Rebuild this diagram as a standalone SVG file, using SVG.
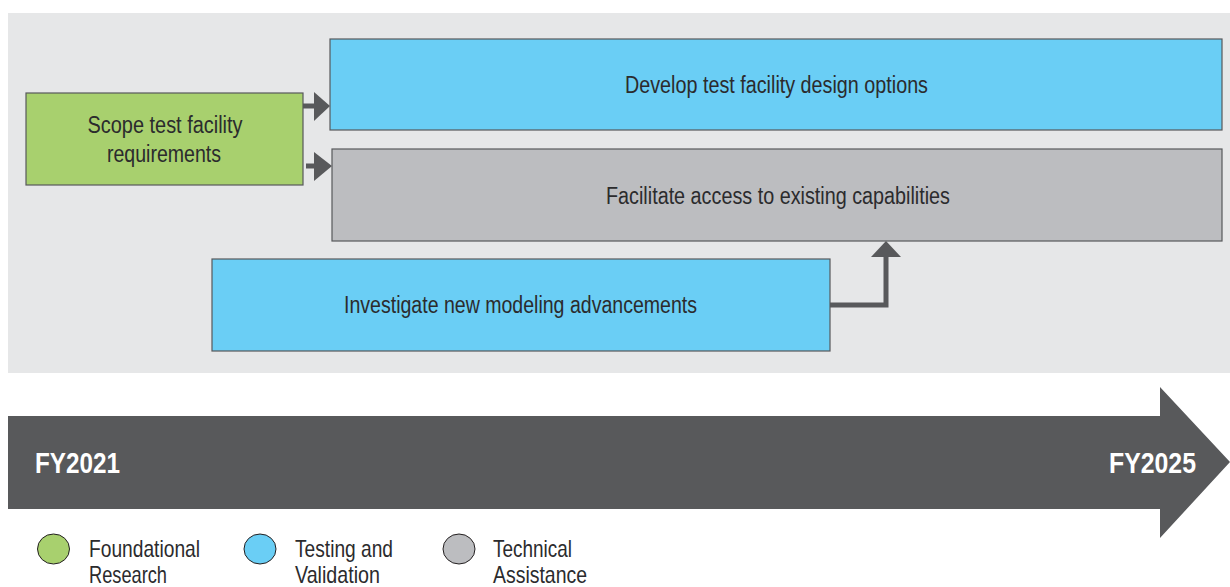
<svg xmlns="http://www.w3.org/2000/svg" width="1230" height="587" viewBox="0 0 1230 587">
<style>
.box{stroke:#58595b;stroke-width:1.2}
.green{fill:#a8d06e}
.blue{fill:#6acef5}
.gray{fill:#bcbdc0}
.t{font-family:"Liberation Sans Narrow","Liberation Sans",Arial,sans-serif;font-size:23px;fill:#2b2b2d}
.lg{font-family:"Liberation Sans Narrow","Liberation Sans",Arial,sans-serif;font-size:24px;fill:#2b2b2d}
.fy{font-family:"Liberation Sans Narrow","Liberation Sans",Arial,sans-serif;font-size:29px;font-weight:bold;fill:#ffffff}
.shaft{fill:none;stroke:#58595b;stroke-width:5}
.head{fill:#58595b}
.dot{stroke:#231f20;stroke-width:1}
</style>
<rect x="8" y="13" width="1222" height="360" fill="#e6e7e8"/>
<g id="connectors">
<path class="shaft" d="M303,106 H316"/>
<polygon class="head" points="314,92 330,106 314,121"/>
<path class="shaft" d="M306,166 H316"/>
<polygon class="head" points="314,152 332,166 314,181"/>
<path class="shaft" d="M830,305 H886 V256"/>
<polygon class="head" points="871,257 901,257 886,241"/>
</g>
<g id="scope">
<rect class="box green" x="26" y="93" width="277" height="92"/>
<text class="t" x="165" y="133" text-anchor="middle" textLength="155" lengthAdjust="spacingAndGlyphs">Scope test facility</text>
<text class="t" x="164" y="162" text-anchor="middle" textLength="114" lengthAdjust="spacingAndGlyphs">requirements</text>
</g>
<g id="develop">
<rect class="box blue" x="330" y="39" width="892" height="91"/>
<text class="t" x="776.5" y="93" text-anchor="middle" textLength="303" lengthAdjust="spacingAndGlyphs">Develop test facility design options</text>
</g>
<g id="facilitate">
<rect class="box gray" x="332" y="149" width="890" height="92"/>
<text class="t" x="778" y="204" text-anchor="middle" textLength="344" lengthAdjust="spacingAndGlyphs">Facilitate access to existing capabilities</text>
</g>
<g id="investigate">
<rect class="box blue" x="212" y="259" width="618" height="92"/>
<text class="t" x="520.5" y="313" text-anchor="middle" textLength="353" lengthAdjust="spacingAndGlyphs">Investigate new modeling advancements</text>
</g>
<g id="timeline">
<polygon fill="#58595b" points="8,416 1160,416 1160,387 1230,462 1160,538 1160,509 8,509"/>
<text class="fy" x="35" y="473" textLength="85" lengthAdjust="spacingAndGlyphs">FY2021</text>
<text class="fy" x="1109" y="473" textLength="87" lengthAdjust="spacingAndGlyphs">FY2025</text>
</g>
<g id="legend">
<ellipse class="dot green" cx="53.5" cy="549" rx="16" ry="15"/>
<text class="lg" x="89" y="557" textLength="111" lengthAdjust="spacingAndGlyphs">Foundational</text>
<text class="lg" x="89" y="583" textLength="78" lengthAdjust="spacingAndGlyphs">Research</text>
<ellipse class="dot blue" cx="260" cy="549" rx="16" ry="15"/>
<text class="lg" x="295" y="557" textLength="98" lengthAdjust="spacingAndGlyphs">Testing and</text>
<text class="lg" x="295" y="583" textLength="85" lengthAdjust="spacingAndGlyphs">Validation</text>
<ellipse class="dot gray" cx="459" cy="549" rx="16" ry="15"/>
<text class="lg" x="493" y="557" textLength="79" lengthAdjust="spacingAndGlyphs">Technical</text>
<text class="lg" x="493" y="583" textLength="94" lengthAdjust="spacingAndGlyphs">Assistance</text>
</g>
</svg>
